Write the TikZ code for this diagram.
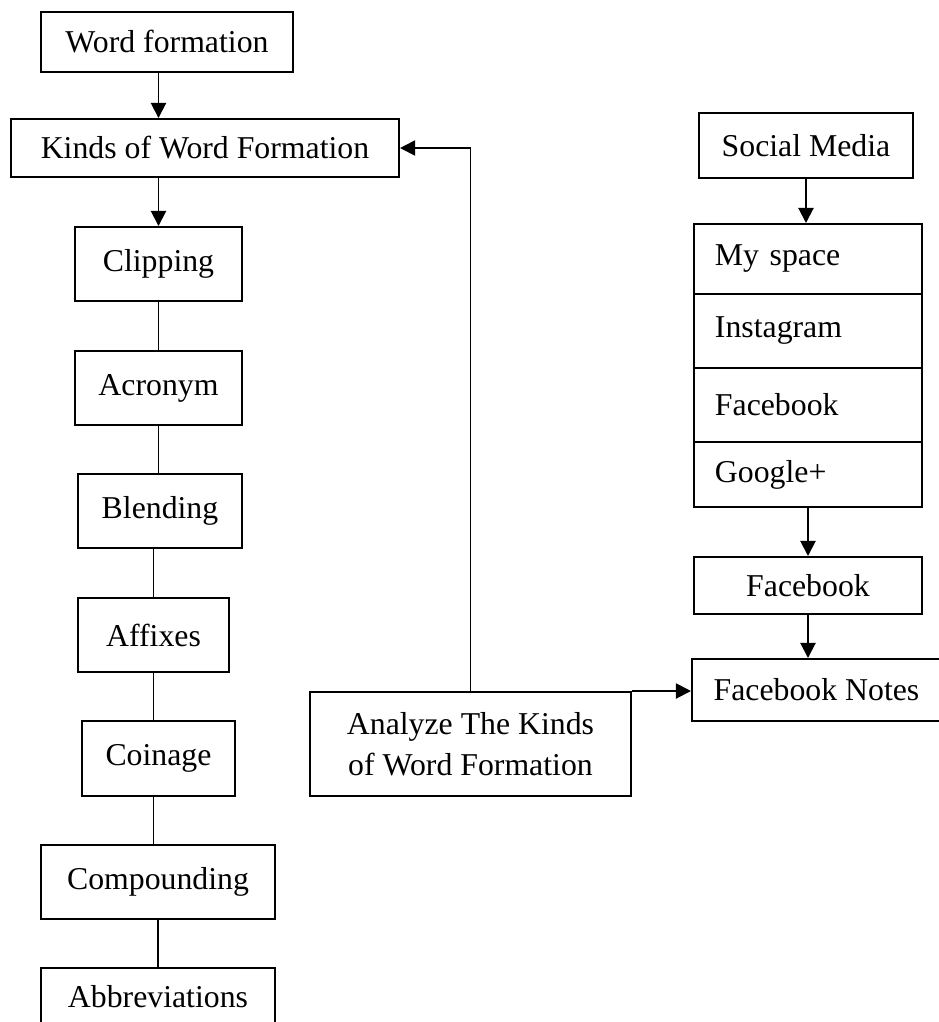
\documentclass[tikz,border=0pt]{standalone}
\usepackage{fontspec}
\setmainfont{Liberation Serif}
\usetikzlibrary{arrows.meta}
\begin{document}
\begin{tikzpicture}[x=0.025cm,y=-0.025cm,font=\fontsize{22.6}{29}\selectfont]
\tikzstyle{bx} = [draw=black,line width=1.4pt,inner sep=0pt] %box
\tikzstyle{it} = [bx,text width=4.65cm,inner xsep=0.525cm,align=left] %stack item
\tikzstyle{ar} = [-{Triangle[length=0.38cm,width=0.38cm]},line width=1.4pt] %arrow
\tikzstyle{ln} = [-,line width=1.4pt] %plain line
\useasboundingbox(0,0)rectangle(939,1022);
\node[bx,minimum width=6.3cm,minimum height=1.5cm](wf)at(167,42){Word formation};
\node[bx,minimum width=9.7cm,minimum height=1.45cm](kinds)at(205,148){Kinds of Word Formation};
\node[bx,minimum width=4.175cm,minimum height=1.85cm](clip)at(158.5,264){Clipping};
\node[bx,minimum width=4.175cm,minimum height=1.85cm](acro)at(158.5,388){Acronym};
\node[bx,minimum width=4.1cm,minimum height=1.85cm](blend)at(160,511){Blending};
\node[bx,minimum width=3.775cm,minimum height=1.85cm](aff)at(153.5,635){Affixes};
\node[bx,minimum width=3.825cm,minimum height=1.875cm](coin)at(158.5,758.5){Coinage};
\node[bx,minimum width=5.85cm,minimum height=1.85cm](comp)at(158,882){Compounding};
\node[bx,minimum width=5.85cm,minimum height=1.45cm](abbr)at(158,997){Abbreviations};
\node[bx,minimum width=8.025cm,minimum height=2.6cm,align=center](an)at(470.5,744){Analyze The Kinds\\of Word Formation};
\node[bx,minimum width=5.35cm,minimum height=1.625cm](sm)at(806,145.5){Social Media};
\node[it,minimum height=1.75cm](ms)at(808,259){My space};
\node[it,minimum height=1.85cm](ig)at(808,331){Instagram};
\node[it,minimum height=1.85cm](fbk)at(808,405){Facebook};
\node[it,minimum height=1.625cm](gp)at(808,474.5){Google+};
\node[bx,minimum width=5.7cm,minimum height=1.425cm](fb)at(808,585.5){Facebook};
\node[bx,minimum width=6.225cm,minimum height=1.55cm](fbn)at(816.5,690){Facebook Notes};
\draw[ar](wf.south -| clip.north)--(kinds.north -| clip.north);
\draw[ar](kinds.south -| clip.north)--(clip.north);
\draw[ln](clip.south)--(acro.north);
\draw[ln](acro.south)--(blend.north -| acro.south);
\draw[ln](blend.south -| aff.north)--(aff.north);
\draw[ln](aff.south)--(coin.north -| aff.south);
\draw[ln](coin.south -| aff.south)--(comp.north -| aff.south);
\draw[ln](comp.south)--(abbr.north);
\draw[ar](an.north)|-(kinds.east);
\draw[ar](an.north east)--(fbn.west |- an.north);
\draw[ar](sm.south)--(ms.north -| sm.south);
\draw[ar](gp.south)--(fb.north);
\draw[ar](fb.south)--(fb.south |- fbn.north);
\end{tikzpicture}
\end{document}
